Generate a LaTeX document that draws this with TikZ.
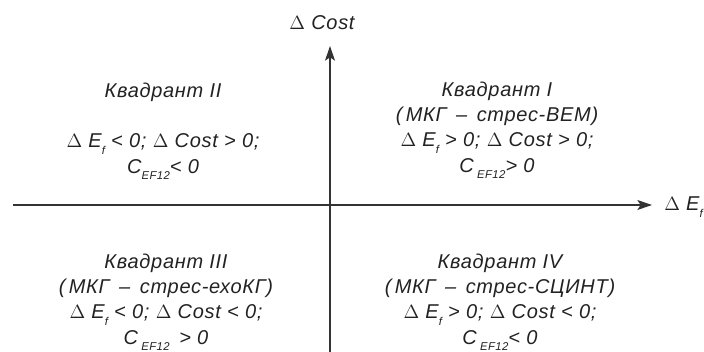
\documentclass[tikz,border=0pt]{standalone}
\usepackage{fontspec}
\setmainfont{Liberation Sans}
\usetikzlibrary{arrows.meta}

\definecolor{axisgray}{RGB}{51,51,51}
\definecolor{textgray}{RGB}{34,34,34}
\newcommand{\sbs}[1]{\raisebox{-0.6ex}{\fontsize{8.5}{9}\selectfont #1}}
\newcommand{\dE}{$\Delta$ E\sbs{f}}
\newcommand{\dC}{$\Delta$ Cost}

\tikzset{
  axisline/.style={color=axisgray, line width=1.1pt, -{Stealth[length=11pt,width=7.5pt,inset=2.5pt]}},
  quadtext/.style={font=\fontsize{15}{19}\selectfont\itshape\addfontfeatures{LetterSpace=3.5}, color=textgray, align=center, inner sep=0.75pt},
  axislabel/.style={font=\fontsize{15}{17}\selectfont\itshape\addfontfeatures{LetterSpace=3.5}, color=textgray, inner sep=0.75pt}
}

\begin{document}
\begin{tikzpicture}[x=0.75pt,y=0.75pt,yscale=-1,xscale=1]
 \useasboundingbox (0,0) rectangle (704,352);

 % axes
 \coordinate (xleft) at (13,205);
 \coordinate (xright) at (652,205);
 \coordinate (ybottom) at (330,352);
 \coordinate (ytop) at (330,46);
 \draw [axisline] (xleft) -- (xright);
 \draw [axisline] (ybottom) -- (ytop);

 % axis labels
 \node [axislabel, anchor=west] (lblE) at (663,207) {\dE};
 \node [axislabel] (lblC) at (322,23) {\dC};

 % quadrants
 \node [quadtext] (quadII) at (163,131) {Квадрант II\\ \mbox{}\\ \dE{} < 0; \dC{} > 0;\\ C\sbs{EF12}< 0};
 \node [quadtext] (quadI) at (497,130) {Квадрант I\\ (\,МКГ \,–\, стрес-ВЕМ)\\ \dE{} > 0; \dC{} > 0;\\ C\,\sbs{EF12}> 0};
 \node [quadtext] (quadIII) at (166,302) {Квадрант III\\ (\,МКГ \,–\, стрес-ехоКГ)\\ \dE{} < 0; \dC{} < 0;\\ C\,\sbs{EF12}\, > 0};
 \node [quadtext] (quadIV) at (500,302) {Квадрант IV\\ (\,МКГ \,–\, стрес-СЦИНТ)\\ \dE{} > 0; \dC{} < 0;\\ C\,\sbs{EF12}< 0};

\end{tikzpicture}
\end{document}
